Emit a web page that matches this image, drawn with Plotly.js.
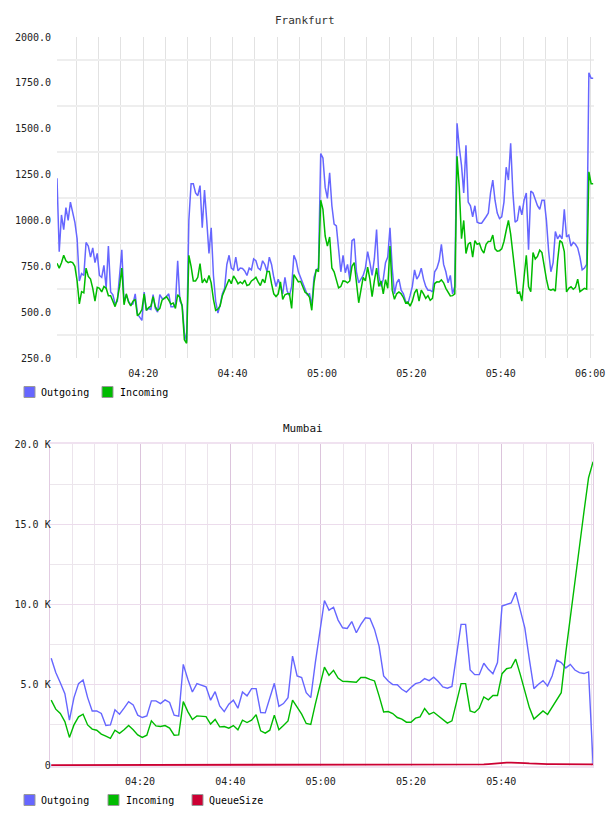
<!DOCTYPE html>
<html>
<head>
<meta charset="utf-8">
<script src="https://cdn.plot.ly/plotly-3.0.1.min.js"></script>
<style>
  html, body { margin: 0; padding: 0; background: #ffffff; }
  #chart { width: 608px; height: 816px; }
</style>
</head>
<body>
<div id="chart"></div>
<script>
// ---------------- Frankfurt: 30 s samples ----------------
const frankfurtStart = [2024, 4, 14, 4, 0, 43];
const frankfurtStepSec = 30;

const frankfurtOutgoing = [
  1230, 830, 1030, 950, 1070, 1000, 1100, 1050, 990, 900,
  670, 710, 700, 880, 860, 800, 850, 770, 820, 700,
  690, 755, 630, 860, 610, 595, 545, 560, 680, 840,
  555, 595, 560, 540, 545, 600, 490, 470, 455, 610,
  510, 520, 515, 595, 520, 500, 595, 575, 575, 585,
  600, 530, 530, 545, 780, 560, 540, 390, 340, 1000,
  1200, 1200, 1150, 1135, 1190, 960, 1165, 1000, 820, 960,
  700, 560, 495, 540, 600, 630, 760, 810, 740, 730,
  800, 725, 740, 738, 725, 700, 740, 730, 790, 780,
  740, 730, 780, 760, 720, 800, 760, 690, 640, 680,
  640, 600, 690, 615, 590, 640, 810, 780, 720, 690,
  655, 630, 595, 600, 535, 690, 730, 740, 1365, 1340,
  1180, 1120, 1260, 1080, 980, 970, 860, 720, 810, 715,
  760, 680, 890, 900, 720, 660, 680, 700, 740, 830,
  770, 700, 790, 950, 700, 640, 680, 770, 800, 960,
  740, 600, 660, 680, 620, 600, 560, 545, 590, 640,
  730, 680, 700, 740, 680, 640, 620, 620, 610, 720,
  740, 780, 870, 760, 720, 660, 700, 600, 640, 1530,
  1400, 1300, 1150, 1410, 1100, 1080, 1020, 1080, 990, 985,
  985, 1000, 1020, 1040, 1150, 1220, 1110, 1040, 1010, 1020,
  1100, 1290, 1220, 1420, 1150, 990, 1000, 1080, 1030, 1110,
  1150, 840, 1160, 1150, 1110, 1080, 1060, 1110, 1110, 1000,
  830, 720, 770, 940, 900, 920, 900, 1060, 910, 920,
  860, 880, 870, 850, 800, 730, 740, 760, 1805, 1775,
  1775
];

const frankfurtIncoming = [
  766, 740, 769, 810, 780, 770, 775, 770, 750, 670,
  545, 612, 605, 740, 695, 680, 630, 560, 635, 630,
  610, 640, 630, 590, 590, 560, 530, 570, 640, 740,
  540, 600, 555, 534, 560, 570, 480, 492, 514, 600,
  510, 525, 532, 585, 530, 510, 520, 565, 574, 585,
  565, 543, 550, 520, 595, 580, 530, 350, 330, 810,
  750, 670, 670, 690, 765, 660, 680, 660, 700, 660,
  570, 510, 516, 534, 590, 620, 645, 679, 655, 697,
  679, 655, 665, 655, 675, 645, 650, 670, 679, 690,
  665, 645, 680, 660, 722, 722, 655, 600, 585, 600,
  665, 570, 595, 600, 600, 520, 705, 688, 665, 668,
  636, 608, 600, 580, 510, 660, 733, 720, 1110, 1060,
  915, 860, 910, 741, 720, 670, 632, 640, 670, 668,
  660, 670, 750, 770, 650, 551, 620, 690, 670, 745,
  680, 585, 670, 740, 640, 670, 600, 677, 630, 860,
  620, 570, 600, 610, 600, 580, 550, 555, 533, 560,
  605, 625, 560, 620, 600, 575, 590, 565, 575, 656,
  665, 664, 676, 660, 630, 605, 588, 590, 600, 1350,
  1180, 900, 1000, 820, 870, 880, 800, 890, 870, 875,
  840, 822, 870, 885, 886, 920, 845, 832, 835, 845,
  885, 945, 1000, 925, 825, 700, 605, 610, 560, 690,
  810, 640, 612, 825, 790, 804, 838, 825, 745, 680,
  625, 620, 625, 615, 780, 890, 880, 830, 610, 630,
  638, 625, 635, 680, 612, 620, 630, 625, 1265, 1200,
  1200
];

const frankfurtTicks = [250, 500, 750, 1000, 1250, 1500, 1750, 2000];

// ---------------- Mumbai: about one sample per minute ----------------
const mumbaiStart = [2024, 4, 14, 4, 0, 20];
const mumbaiStepSec = 60.5;

const mumbaiOutgoing = [
  6650, 5760, 5130, 4450, 2800, 4200, 5070, 5300, 4200, 3370,
  3370, 3210, 2460, 2500, 3440, 3170, 3540, 3950, 3750, 3110,
  2960, 3060, 4000, 4000, 3830, 4060, 3900, 3110, 3040, 6270,
  5340, 4550, 5070, 4970, 4870, 4040, 4570, 3680, 3330, 3790,
  4040, 3540, 4550, 4310, 4760, 4760, 3270, 3250, 4200, 5090,
  3660, 3830, 4200, 6790, 5550, 5450, 4510, 4200, 6380, 8240,
  10250, 9650, 9830, 9030, 8550, 8510, 8940, 8240, 8760, 9170,
  9130, 8450, 7410, 5550, 5240, 5010, 5000, 4720, 4550, 4830,
  5070, 5150, 5380, 5260, 5470, 5200, 4870, 4790, 4900, 6830,
  8760, 8760, 5920, 5630, 5630, 6340, 5960, 5680, 6380, 9900,
  10020, 10100, 10770, 9690, 8550, 6580, 4760, 5030, 5260, 4930,
  5550, 6540, 6380, 6050, 6270, 5920, 5760, 5700, 5800, 0
];

const mumbaiIncoming = [
  4040, 3480, 3210, 2710, 1720, 2500, 3000, 3170, 2500, 2240,
  2170, 1930, 1800, 1660, 2170, 1970, 2200, 2460, 2200, 1880,
  1720, 1860, 2750, 2440, 2400, 2460, 2300, 1860, 1880, 3950,
  3330, 2840, 3060, 3040, 3020, 2550, 2840, 2380, 2400, 2300,
  2460, 2200, 2800, 2650, 2800, 3130, 2130, 1990, 2170, 3110,
  2200, 2460, 2750, 4040, 3580, 3170, 2590, 2530, 3800, 5000,
  6100, 5590, 5900, 5420, 5220, 5200, 5180, 5160, 5450, 5450,
  5340, 5240, 4310, 3310, 3330, 3210, 2960, 2860, 2670, 2670,
  2920, 3000, 3520, 3150, 3290, 3060, 2860, 2610, 2750, 3910,
  5070, 5070, 3370, 3270, 3540, 4240, 4060, 4330, 4330, 5690,
  6000, 6070, 6600, 5650, 4680, 3580, 2860, 3130, 3370, 3150,
  3580, 4020, 4510, 7000, 9300, 11400, 13600, 15800, 17900, 18900
];

const mumbaiQueueSize = [
  0, 0, 0, 0, 0, 0, 0, 0, 0, 0,
  0, 0, 0, 0, 0, 0, 0, 0, 0, 0,
  0, 0, 0, 0, 0, 0, 0, 0, 0, 0,
  0, 0, 0, 0, 0, 0, 0, 0, 0, 0,
  10, 10, 10, 10, 10, 10, 10, 10, 10, 20,
  20, 30, 40, 40, 40, 30, 20, 20, 20, 20,
  20, 20, 20, 20, 20, 20, 20, 20, 20, 20,
  20, 20, 20, 20, 30, 30, 30, 30, 30, 30,
  30, 30, 30, 30, 30, 30, 30, 30, 30, 30,
  30, 30, 30, 30, 30, 40, 60, 90, 120, 140,
  150, 150, 150, 140, 120, 100, 80, 70, 60, 60,
  60, 55, 55, 55, 50, 50, 50, 50, 45, 40
];

const mumbaiTicks = [0, 5000, 10000, 15000, 20000];
const mumbaiTickText = ['0', '5.0 K', '10.0 K', '15.0 K', '20.0 K'];
const mumbaiTimeTicks = ['04:20', '04:40', '05:00', '05:20', '05:40'];

// ---------------- helpers ----------------
const W = 608, H = 816;
const DAY = '2024-05-14 ';
const px = x => x / W;
const py = y => 1 - y / H;

function timeAxis(start, stepSec, n) {
  const base = Date.UTC(start[0], start[1], start[2], start[3], start[4], start[5]);
  const out = [];
  for (let i = 0; i < n; i++) {
    out.push(new Date(base + Math.round(i * stepSec * 1000)).toISOString().replace('T', ' ').slice(0, 23));
  }
  return out;
}

const fTimes = timeAxis(frankfurtStart, frankfurtStepSec, frankfurtOutgoing.length);
const mTimes = timeAxis(mumbaiStart, mumbaiStepSec, mumbaiOutgoing.length);

const BLUE = '#6666ff';
const GREEN = '#00bb00';
const RED = '#cc0033';
const FONT = '"DejaVu Sans Mono", monospace';

const traces = [
  { x: fTimes, y: frankfurtOutgoing, name: 'Outgoing', type: 'scatter', mode: 'lines',
    line: { color: BLUE, width: 1.5 }, xaxis: 'x', yaxis: 'y' },
  { x: fTimes, y: frankfurtIncoming, name: 'Incoming', type: 'scatter', mode: 'lines',
    line: { color: GREEN, width: 1.5 }, xaxis: 'x', yaxis: 'y' },
  { x: mTimes, y: mumbaiOutgoing, name: 'Outgoing', type: 'scatter', mode: 'lines',
    line: { color: BLUE, width: 1.4 }, xaxis: 'x2', yaxis: 'y2' },
  { x: mTimes, y: mumbaiIncoming, name: 'Incoming', type: 'scatter', mode: 'lines',
    line: { color: GREEN, width: 1.4 }, xaxis: 'x2', yaxis: 'y2' },
  { x: mTimes, y: mumbaiQueueSize, name: 'QueueSize', type: 'scatter', mode: 'lines',
    line: { color: RED, width: 1.8 }, xaxis: 'x2', yaxis: 'y2' }
];

const tickFont = { family: FONT, size: 10, color: '#222' };

// legend swatches drawn as small framed squares
function swatch(x, yc, color) {
  return { type: 'rect', xref: 'paper', yref: 'paper',
    x0: px(x), x1: px(x + 11), y0: py(yc + 5.5), y1: py(yc - 5.5),
    fillcolor: color, line: { color: '#999999', width: 1 } };
}
function label(x, yc, text) {
  return { xref: 'paper', yref: 'paper', x: px(x), y: py(yc), xanchor: 'left', yanchor: 'middle',
    text: text, showarrow: false, font: { family: FONT, size: 10, color: '#000' } };
}

const layout = {
  width: W, height: H,
  margin: { l: 0, r: 0, t: 0, b: 0 },
  paper_bgcolor: '#ffffff', plot_bgcolor: '#ffffff',
  showlegend: false,
  xaxis: {
    type: 'date', domain: [px(57), px(593.5)],
    range: [DAY + '04:00:43', DAY + '06:00:45'],
    tick0: DAY + '04:00:00', dtick: 20 * 60 * 1000, tickformat: '%H:%M',
    showgrid: true, gridcolor: '#e2e2e2', gridwidth: 1,
    minor: { dtick: 5 * 60 * 1000, tick0: DAY + '04:00:00', showgrid: true, gridcolor: '#e2e2e2', gridwidth: 1, ticks: '' },
    ticks: '', showline: false, zeroline: false, tickfont: tickFont, ticklabelstandoff: 8
  },
  yaxis: {
    domain: [py(358), py(37)], range: [250, 2000],
    tickmode: 'array', tickvals: frankfurtTicks, tickformat: '.1f',
    showgrid: false, zeroline: false, showline: false, ticks: '',
    minor: { tickmode: 'linear', tick0: 125, dtick: 250, showgrid: true, gridcolor: '#eeeeee', gridwidth: 2, ticks: '' },
    tickfont: tickFont, ticklabelstandoff: 5
  },
  xaxis2: {
    type: 'date', domain: [px(49.7), px(593)], anchor: 'y2',
    range: [DAY + '04:00:00', DAY + '06:00:18'],
    tickmode: 'array', tickvals: mumbaiTimeTicks.map(t => DAY + t), tickformat: '%H:%M',
    showgrid: true, gridcolor: '#dcc4dc', gridwidth: 1,
    minor: { tickmode: 'linear', dtick: 5 * 60 * 1000, tick0: DAY + '04:00:00', showgrid: true, gridcolor: '#ece4ec', gridwidth: 1, ticks: '' },
    ticks: '', showline: true, linecolor: '#f0e2f0', linewidth: 2, mirror: true,
    zeroline: false, tickfont: tickFont, ticklabelstandoff: 5
  },
  yaxis2: {
    domain: [py(766), py(444)], range: [-60, 20000], anchor: 'x2',
    tickmode: 'array', tickvals: mumbaiTicks, ticktext: mumbaiTickText,
    showgrid: true, gridcolor: '#ecdcec', gridwidth: 1,
    minor: { tickmode: 'linear', tick0: 0, dtick: 2500, showgrid: true, gridcolor: '#ece6ec', gridwidth: 1, ticks: '' },
    ticks: '', showline: true, linecolor: '#e2cce2', linewidth: 1, mirror: true,
    zeroline: false, tickfont: tickFont, ticklabelstandoff: -4
  },
  annotations: [
    { xref: 'paper', yref: 'paper', x: px(304.5), y: py(20), xanchor: 'center', yanchor: 'middle',
      text: 'Frankfurt', showarrow: false, font: { family: FONT, size: 11, color: '#333' } },
    { xref: 'paper', yref: 'paper', x: px(303), y: py(428), xanchor: 'center', yanchor: 'middle',
      text: 'Mumbai', showarrow: false, font: { family: FONT, size: 11, color: '#111' } },
    label(39, 392, 'Outgoing'),
    label(118, 392, 'Incoming'),
    label(39, 800, 'Outgoing'),
    label(124, 800, 'Incoming'),
    label(207, 800, 'QueueSize')
  ],
  shapes: [
    swatch(24, 392, BLUE),
    swatch(102, 392, GREEN),
    swatch(24, 800, BLUE),
    swatch(108, 800, GREEN),
    swatch(192, 800, RED)
  ]
};

Plotly.newPlot('chart', traces, layout, { staticPlot: true, displayModeBar: false });
</script>
</body>
</html>
